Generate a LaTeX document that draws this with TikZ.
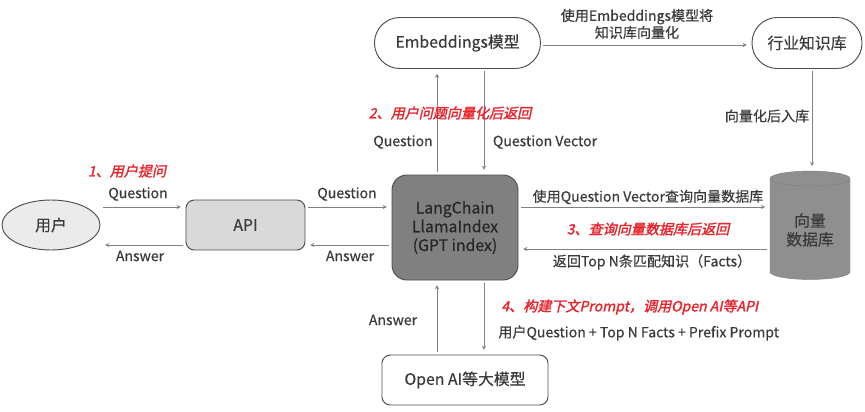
\documentclass[tikz,border=0pt]{standalone}
\usepackage{fontspec}
\setmainfont[FakeBold=0.4]{Noto Sans CJK SC}
\newfontfamily\stepfont[FakeSlant=0.22,FakeBold=1.8]{Noto Sans CJK SC}
\usetikzlibrary{shapes.geometric}
\definecolor{textdark}{HTML}{3A3A3A}
\definecolor{edgedark}{HTML}{4D4D4D}
\definecolor{linegray}{HTML}{808080}
\definecolor{stepred}{HTML}{E8242C}
\definecolor{userfill}{HTML}{EBEBEB}
\definecolor{apifill}{HTML}{D9D9D9}
\definecolor{corefill}{HTML}{808080}
\definecolor{dbfill}{HTML}{8F8F8F}
\begin{document}
\begin{tikzpicture}[x=0.03cm,y=-0.03cm,>=stealth,
  every node/.style={font=\fontsize{13.5}{16}\selectfont,text=textdark,inner sep=1pt},
  box/.style={draw=edgedark,line width=0.8pt,align=center},
  lbl/.style={font=\fontsize{12}{14.5}\selectfont,align=center},
  steplbl/.style={font=\stepfont\fontsize{12}{14.5}\selectfont,text=stepred},
  arr/.style={->,draw=linegray,line width=0.6pt,shorten <=2pt,shorten >=4pt}]
  \useasboundingbox (0,0) rectangle (865,411);
  % boxes
  \node[box,ellipse,fill=userfill,minimum width=2.94cm,minimum height=1.5cm] (user) at (51,225) {用户};
  \node[box,rounded corners=0.25cm,fill=apifill,minimum width=3.57cm,minimum height=1.5cm] (api) at (245.5,225) {API};
  \node[box,rounded corners=0.45cm,fill=corefill,text=black!85,minimum width=3.78cm,minimum height=3.15cm] (core) at (455,227.5) {LangChain\\LlamaIndex\\(GPT index)};
  \node[box,rounded corners=0.76cm,fill=white,minimum width=4.98cm,minimum height=1.53cm] (emb) at (457.5,43) {Embeddings模型};
  \node[box,rounded corners=0.76cm,fill=white,minimum width=3.3cm,minimum height=1.53cm] (kb) at (807,43) {行业知识库};
  \node[cylinder,shape border rotate=90,aspect=0.3,draw=gray,fill=dbfill,align=center,minimum width=2.4cm,minimum height=3.25cm] (db) at (810,230) {向量\\数据库};
  \node[box,rounded corners=0.25cm,fill=white,minimum width=4.98cm,minimum height=1.5cm] (llm) at (465,380) {Open AI等大模型};
  % rows and columns of the connectors
  \coordinate (qrow) at (0,207);
  \coordinate (arow) at (0,245);
  \coordinate (frow) at (0,249);
  \coordinate (erow) at (0,45);
  \coordinate (upcol) at (437,0);
  \coordinate (downcol) at (484,0);
  \coordinate (kbcol) at (812,0);
  % user <-> api <-> core
  \draw[arr] (user.east |- qrow) -- (api.west |- qrow);
  \draw[arr] (api.west |- arow) -- (user.east |- arow);
  \draw[arr] (api.east |- qrow) -- (core.west |- qrow);
  \draw[arr] (core.west |- arow) -- (api.east |- arow);
  \node[steplbl] (s1) at (127,171) {1、用户提问};
  \node[lbl] (q1) at (138,194) {Question};
  \node[lbl] (a1) at (140,256) {Answer};
  \node[lbl] (q2) at (347,194) {Question};
  \node[lbl] (a2) at (350,256) {Answer};
  % core <-> embeddings
  \draw[arr] (core.north -| upcol) -- (emb.south -| upcol);
  \draw[arr] (emb.south -| downcol) -- (core.north -| downcol);
  \node[steplbl] (s2) at (450,113) {2、用户问题向量化后返回};
  \node[lbl] (q3) at (403,142) {Question};
  \node[lbl] (v3) at (545,142) {Question Vector};
  % embeddings -> kb -> db
  \draw[arr] (emb.east |- erow) -- (kb.west |- erow);
  \node[lbl] (e4) at (637,24) {使用Embeddings模型将\\知识库向量化};
  \draw[arr] (kb.south -| kbcol) -- (db.north -| kbcol);
  \node[lbl] (k5) at (767,116) {向量化后入库};
  % core <-> db
  \draw[arr] (core.east |- qrow) -- (db.west |- qrow);
  \draw[arr] (db.west |- frow) -- (core.east |- frow);
  \node[lbl] (v6) at (648,197) {使用Question Vector查询向量数据库};
  \node[steplbl] (s3) at (648,229) {3、查询向量数据库后返回};
  \node[lbl] (f6) at (652,262) {返回Top N条匹配知识（Facts）};
  % core <-> llm
  \draw[arr] (llm.north -| upcol) -- (core.south -| upcol);
  \draw[arr] (core.south -| downcol) -- (llm.north -| downcol);
  \node[lbl] (a7) at (393,320) {Answer};
  \node[steplbl,anchor=west] (s4) at (500,307) {4、构建下文Prompt，调用Open AI等API};
  \node[lbl,anchor=west] (p7) at (497,333) {用户Question + Top N Facts + Prefix Prompt};
\end{tikzpicture}
\end{document}
